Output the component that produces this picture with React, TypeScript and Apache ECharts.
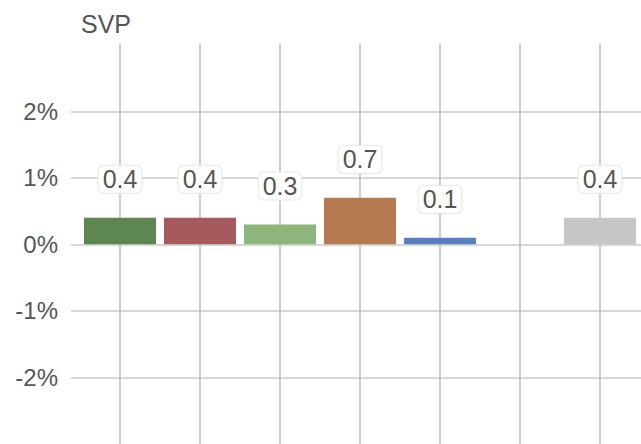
import React, { useEffect, useRef } from "react";
import * as echarts from "echarts";

const categories = ["A", "B", "C", "D", "E", "F", "G"];
const values: (number | null)[] = [0.4, 0.4, 0.3, 0.7, 0.1, null, 0.4];
const barColors = ["#5e8653", "#a65a5d", "#8db57c", "#b57a52", "#5a7fbd", "#cccccc", "#c6c6c6"];
const yTicks = [-3, -2, -1, 0, 1, 2, 3];
const titleText = "SVP";

const FONT = "'Liberation Sans', Arial, sans-serif";

export default function App() {
  const ref = useRef<HTMLDivElement>(null);
  useEffect(() => {
    if (!ref.current) return;
    const chart = echarts.init(ref.current, null, { renderer: "svg" });
    const yMin = yTicks[0];
    const yMax = yTicks[yTicks.length - 1];
    chart.setOption({
      animation: false,
      textStyle: { fontFamily: FONT },
      title: {
        text: titleText,
        left: 76,
        top: 6,
        textStyle: { fontSize: 25, fontWeight: "normal", color: "#555", fontFamily: FONT },
      },
      grid: [
        { left: 71, right: 0, top: 44.7, bottom: -0.7 },
        { left: 80, right: 1, top: 44.7, bottom: -0.7 },
      ],
      xAxis: [
        { type: "value", gridIndex: 0, show: false, min: 0, max: 1 },
        {
          type: "category",
          gridIndex: 1,
          position: "bottom",
          data: categories,
          axisLine: { show: false, onZero: false },
          axisLabel: { show: false },
          axisTick: {
            show: true,
            alignWithLabel: true,
            inside: true,
            length: 400,
            lineStyle: { color: "#bdbdbd", width: 1.5 },
          },
          splitLine: { show: false },
        },
      ],
      yAxis: [
        {
          type: "value",
          gridIndex: 0,
          min: yMin,
          max: yMax,
          interval: 1,
          axisLine: { show: false },
          axisTick: { show: false },
          axisLabel: {
            formatter: "{value}%",
            fontSize: 24,
            color: "#555",
            margin: 13,
            showMinLabel: false,
            showMaxLabel: false,
            fontFamily: FONT,
          },
          splitLine: {
            show: true,
            showMinLine: false,
            showMaxLine: false,
            lineStyle: { color: "#cacaca", width: 1.5 },
          },
        },
        {
          type: "value",
          gridIndex: 1,
          min: yMin,
          max: yMax,
          interval: 1,
          show: false,
        },
      ],
      series: [
        {
          type: "bar",
          xAxisIndex: 1,
          yAxisIndex: 1,
          barWidth: 72,
          data: values.map((v, i) => ({
            value: v,
            itemStyle: { color: barColors[i] },
          })),
          label: {
            show: true,
            position: "top",
            distance: 25,
            fontSize: 25,
            color: "#555",
            fontFamily: FONT,
            backgroundColor: "#ffffff",
            borderColor: "#e6e6e6",
            borderWidth: 1,
            borderRadius: 5,
            padding: [1, 4, 1, 4],
          },
        },
      ],
    });
    return () => chart.dispose();
  }, []);
  return (
    <div
      ref={ref}
      style={{ position: "fixed", left: 0, top: 0, width: 641, height: 444, background: "#fff" }}
    />
  );
}
